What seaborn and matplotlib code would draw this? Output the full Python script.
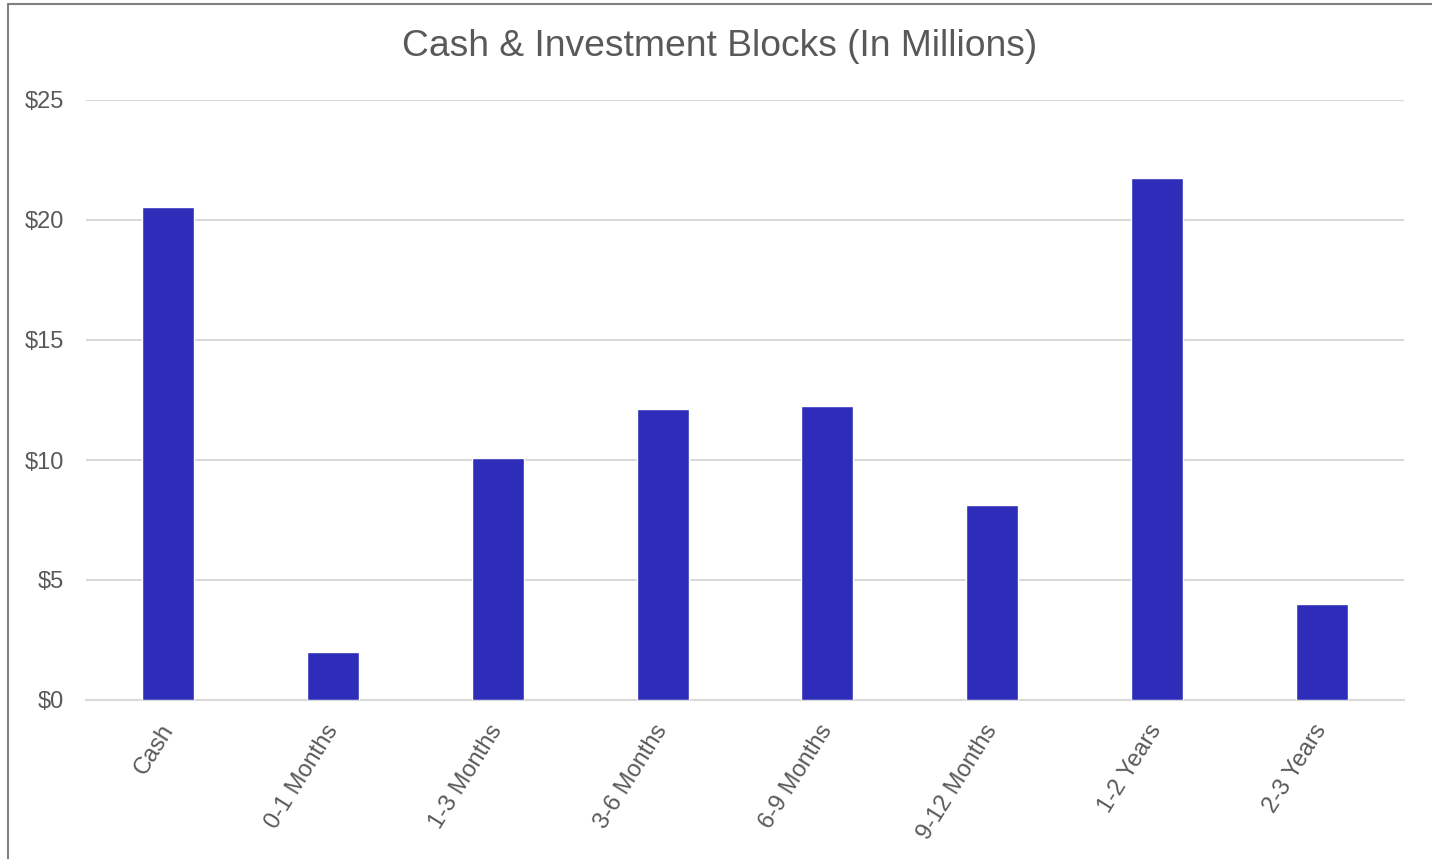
import matplotlib
matplotlib.use("Agg")
import matplotlib.pyplot as plt
import seaborn as sns
import pandas as pd
from matplotlib.patches import Rectangle
from matplotlib.ticker import FuncFormatter

categories = ["Cash", "0-1 Months", "1-3 Months", "3-6 Months", "6-9 Months",
              "9-12 Months", "1-2 Years", "2-3 Years"]
values = [20.55, 2.0, 10.08, 12.12, 12.25, 8.12, 21.75, 4.0]

sns.set_theme(style="white")
plt.rcParams['font.family'] = ['Liberation Sans', 'DejaVu Sans']

W, H = 1432, 859
fig = plt.figure(figsize=(W/100, H/100), dpi=100)
ax = fig.add_axes([86/W, 1-700/H, (1404-86)/W, 600/H])

df = pd.DataFrame({"cat": categories, "val": values})
sns.barplot(data=df, x="cat", y="val", color="#2E2DB9", saturation=1,
            width=0.315, ax=ax, zorder=3)

ax.set_ylim(0, 25)
ax.set_yticks([0, 5, 10, 15, 20, 25])
ax.yaxis.set_major_formatter(FuncFormatter(lambda v, p: f"${int(v)}"))
ax.grid(axis="y", color="#D9D9D9", linewidth=1.5, zorder=0)
ax.set_axisbelow(True)
for s in ["top", "right", "left"]:
    ax.spines[s].set_visible(False)
ax.spines["bottom"].set_color("#D9D9D9")
ax.spines["bottom"].set_linewidth(1.5)
ax.set_xlabel("")
ax.set_ylabel("")
ax.tick_params(axis="both", length=0, labelsize=17, colors="#595959")
ax.tick_params(axis="x", pad=19)
ax.tick_params(axis="y", pad=16)
plt.setp(ax.get_xticklabels(), rotation=58, ha="right", va="center",
         rotation_mode="anchor")
ax.set_xlim(-0.5, len(categories) - 0.5)

fig.text(720/W, 1-46/H, "Cash & Investment Blocks (In Millions)", ha="center",
         va="center", fontsize=26.8, color="#595959")

fig.patches.append(Rectangle((8/W, -0.1), 1.2, 1.1 - 4/H,
                             transform=fig.transFigure, fill=False,
                             edgecolor="#808080", linewidth=1.5))

fig.savefig("out.png", dpi=100)
